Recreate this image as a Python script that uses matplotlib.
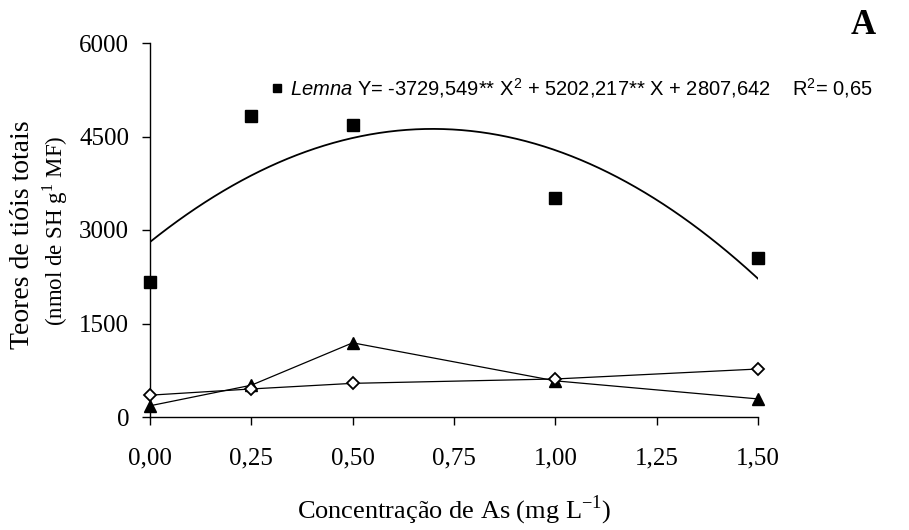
import numpy as np
import matplotlib
matplotlib.use("Agg")
import matplotlib.pyplot as plt

plt.rcParams['font.family'] = ['Liberation Serif', 'DejaVu Serif']
plt.rcParams['mathtext.fontset'] = 'custom'
plt.rcParams['mathtext.rm'] = 'Liberation Sans'
plt.rcParams['mathtext.it'] = 'Liberation Sans:italic'
plt.rcParams['mathtext.sf'] = 'Liberation Serif'

# arsenic concentration (mg/L)
conc = [0.0, 0.25, 0.5, 1.0, 1.5]
# total thiols (nmol SH / g MF)
lemna = [2160, 4830, 4690, 3510, 2550]
triangles = [180, 510, 1190, 580, 290]
diamonds = [350, 450, 540, 610, 770]

# quadratic fit for Lemna
coef_a, coef_b, coef_c = -3729.549, 5202.217, 2807.642

xticks = [0.0, 0.25, 0.5, 0.75, 1.0, 1.25, 1.5]
xticklabels = ['0,00', '0,25', '0,50', '0,75', '1,00', '1,25', '1,50']
yticks = [0, 1500, 3000, 4500, 6000]

fig = plt.figure(figsize=(9.09, 5.30), dpi=100)
ax = fig.add_axes([150/909, 1 - 417/530, 608/909, 374/530])

xs = np.linspace(0, 1.5, 200)
ax.plot(xs, coef_a*xs**2 + coef_b*xs + coef_c, color='black', lw=1.3, zorder=2)

sq, = ax.plot(conc, lemna, ls='none', marker='s', ms=8, color='black',
              zorder=4, clip_on=False)
ax.plot(conc, triangles, color='black', lw=0.9, marker='^', ms=9,
        zorder=3, clip_on=False)
ax.plot(conc, diamonds, color='black', lw=0.9, marker='D', ms=6.5,
        mfc='white', mec='black', mew=1.3, zorder=3, clip_on=False)

ax.set_xlim(0, 1.5)
ax.set_ylim(0, 6000)
ax.set_xticks(xticks)
ax.set_xticklabels(xticklabels)
ax.set_yticks(yticks)
for s in ('top', 'right'):
    ax.spines[s].set_visible(False)
for s in ('left', 'bottom'):
    ax.spines[s].set_linewidth(1.0)
ax.tick_params(axis='both', direction='out', length=6, width=1.0, labelsize=18)
ax.tick_params(axis='x', pad=16)
ax.tick_params(axis='y', pad=9)

ax.set_xlabel(r'Concentração de As (mg L$^{\mathsf{-1}}$)', fontsize=19, labelpad=18)
fig.text(23/909, 1 - 235/530, 'Teores de tióis totais', rotation=90,
         fontsize=20, ha='center', va='center')
fig.text(55/909, 1 - 231/530, r'(nmol de SH g$^{\mathsf{1}}$ MF)', rotation=90,
         fontsize=16.5, ha='center', va='center')

fig.text(863/909, 1 - 25/530, 'A', fontsize=25, fontweight='bold',
         ha='center', va='center')

label = (r'$\mathit{Lemna}$ Y= -3729,549** X$^{2}$ + 5202,217** X + 2807,642'
         r'    R$^{2}$= 0,65')
leg = ax.legend([sq], [label], loc='center left',
                bbox_to_anchor=(271/909, 1 - 88/530), bbox_transform=fig.transFigure,
                frameon=False, handlelength=0.6, handletextpad=0.35,
                markerscale=0.75, borderaxespad=0, borderpad=0,
                prop={'family': 'Liberation Sans', 'size': 14.5})

fig.savefig('out.png', dpi=100)
